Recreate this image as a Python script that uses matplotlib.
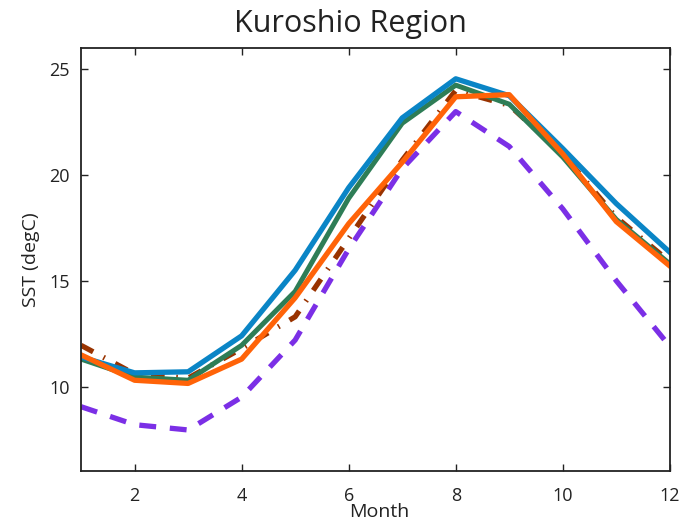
import matplotlib
matplotlib.use('Agg')
import matplotlib.pyplot as plt

plt.rcParams['font.family'] = ['Open Sans', 'DejaVu Sans']

month = list(range(1, 13))
sst_blue = [11.4, 10.65, 10.7, 12.4, 15.5, 19.4, 22.7, 24.55, 23.75, 21.25, 18.65, 16.35]
sst_green = [11.3, 10.45, 10.3, 11.95, 14.5, 18.9, 22.45, 24.25, 23.35, 20.85, 17.9, 15.8]
sst_orange = [11.5, 10.3, 10.15, 11.3, 14.2, 17.7, 20.6, 23.7, 23.8, 21.0, 17.8, 15.7]
sst_brown = [11.95, 10.6, 10.4, 11.8, 13.3, 17.0, 20.7, 24.0, 23.3, 21.0, 18.0, 15.9]
sst_purple = [9.05, 8.2, 7.95, 9.5, 12.2, 16.5, 20.3, 23.0, 21.35, 18.4, 15.0, 11.9]

fig = plt.figure(figsize=(6.87, 5.23), dpi=100)
ax = fig.add_axes([0.118, 0.099, 0.857, 0.809])

ax.plot(month, sst_purple, color='#7b2fe6', lw=3.8, ls=(0, (3.2, 2.6)), dash_capstyle='butt')
ax.plot(month, sst_brown, color='#993300', lw=3.8, ls=(0, (2.6, 2.2, 0.3, 2.2)), dash_capstyle='butt')
ax.plot(month, sst_green, color='#2e7d56', lw=3.6)
ax.plot(month, sst_blue, color='#0a85c6', lw=3.8)
ax.plot(month, sst_orange, color='#ff6308', lw=3.8)

ax.set_xlim(1, 12)
ax.set_ylim(6, 26)
ax.set_xticks([2, 4, 6, 8, 10, 12])
ax.set_yticks([10, 15, 20, 25])
ax.tick_params(direction='in', top=True, right=True, length=5, width=1, labelsize=13, colors='#222222')
ax.tick_params(axis='x', pad=11)
ax.tick_params(axis='y', pad=8)
for s in ax.spines.values():
    s.set_linewidth(1.3)
    s.set_color('#222222')

# title sits left of the axes centre, like the original figure
fig.text(350 / 687, 1 - 9 / 523, 'Kuroshio Region', fontsize=22, color='#222222', ha='center', va='top')
ax.set_xlabel('Month', fontsize=14, color='#222222')
ax.xaxis.set_label_coords((379 - 81) / 589, -0.075)
ax.set_ylabel('SST (degC)', fontsize=14, color='#222222', labelpad=7)

fig.savefig('out.png', dpi=100)
